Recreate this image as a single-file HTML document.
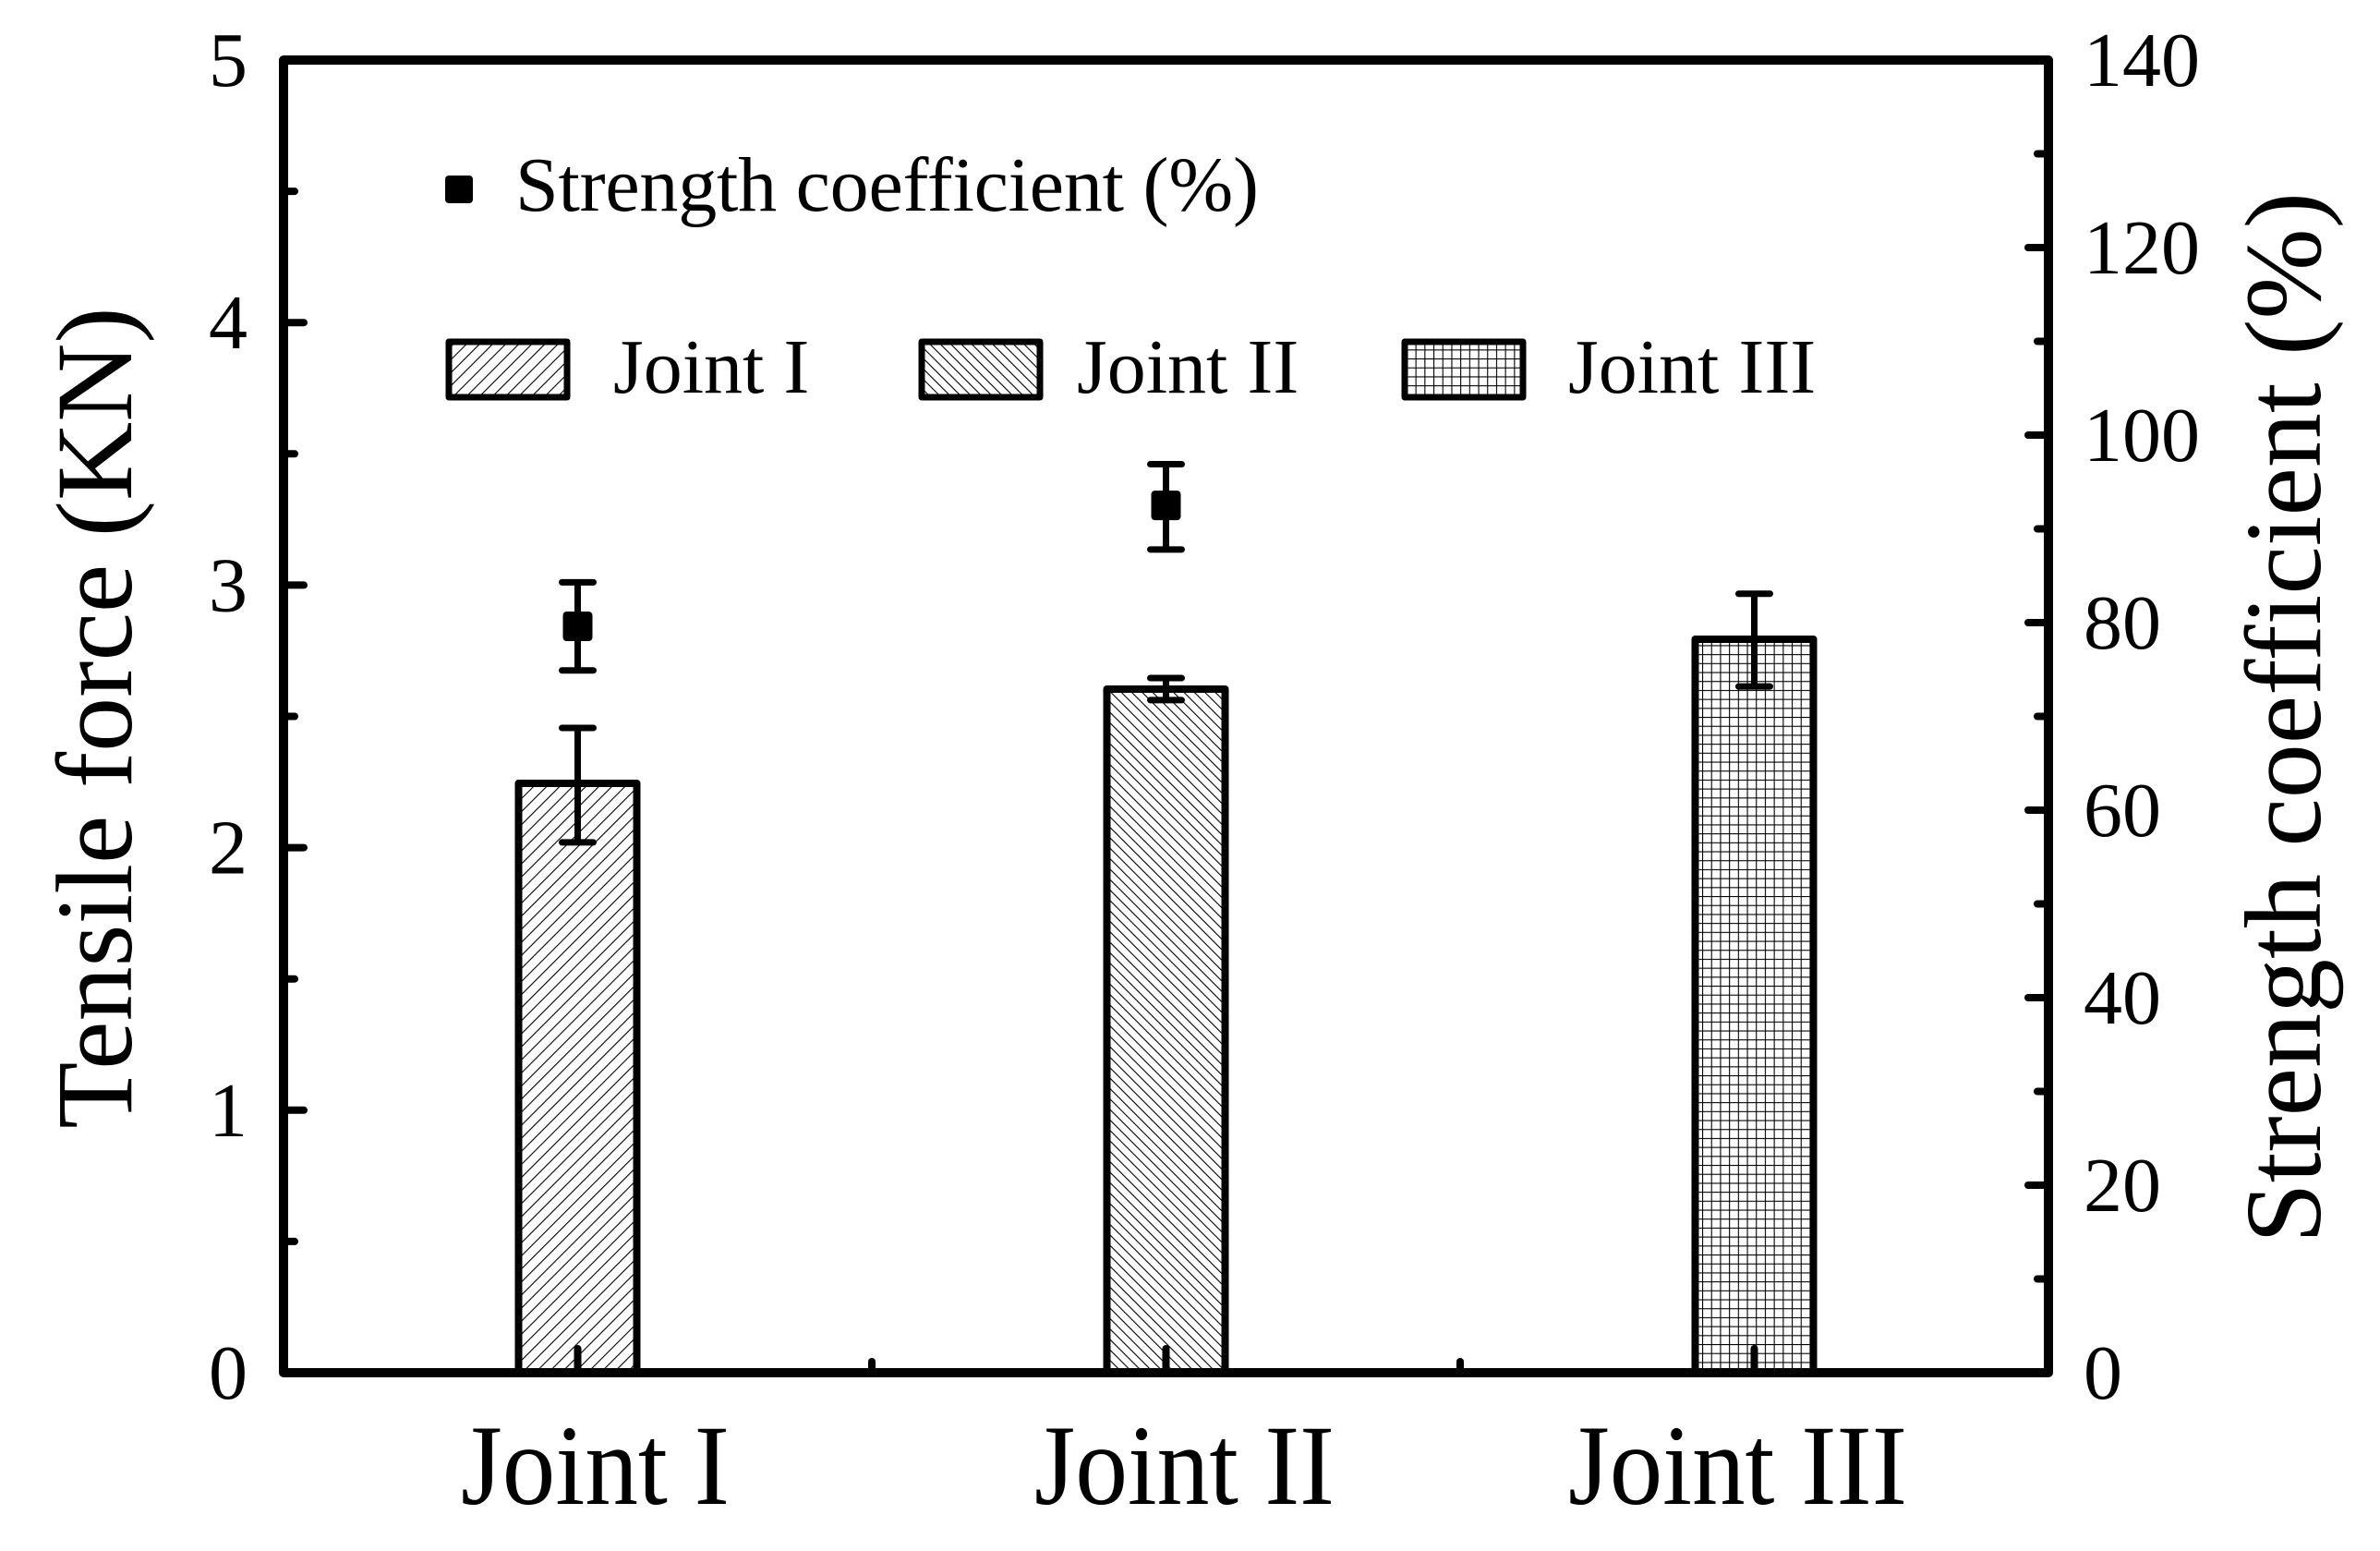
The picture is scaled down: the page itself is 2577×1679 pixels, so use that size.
<!DOCTYPE html>
<html><head><meta charset="utf-8"><style>
html,body{margin:0;padding:0;background:#fff;}
svg{display:block;}
text{font-family:"Liberation Serif",serif;fill:#000;}
</style></head><body>
<svg id="chart" xmlns="http://www.w3.org/2000/svg" width="2577" height="1679" viewBox="0 0 2577 1679">
<defs>
<pattern id="hatch1" patternUnits="userSpaceOnUse" width="10" height="10" patternTransform="rotate(45)">
<line x1="0" y1="0" x2="0" y2="10" stroke="#000" stroke-width="2.2"/></pattern>
<pattern id="hatch2" patternUnits="userSpaceOnUse" width="8" height="8" patternTransform="rotate(-45)">
<line x1="0" y1="0" x2="0" y2="8" stroke="#000" stroke-width="2.2"/></pattern>
<pattern id="hatch3" patternUnits="userSpaceOnUse" width="9.7" height="9.7">
<path d="M0 0 H9.7 M0 0 V9.7" stroke="#000" stroke-width="2.2" fill="none"/></pattern>
</defs>
<g id="plot"></g>
</svg>
<script>
const categories = ["Joint I", "Joint II", "Joint III"];
const forceValues = [2.245, 2.604, 2.794];
const forceErrLow = [2.02, 2.562, 2.614];
const forceErrHigh = [2.456, 2.646, 2.967];
const coefCategories = ["Joint I", "Joint II"];
const coefValues = [79.6, 92.5];
const coefErrLow = [74.9, 87.8];
const coefErrHigh = [84.3, 96.9];
const leftTicks = [0, 1, 2, 3, 4, 5];
const rightTicks = [0, 20, 40, 60, 80, 100, 120, 140];
const patterns = ["url(#hatch1)", "url(#hatch2)", "url(#hatch3)"];

const NS = "http://www.w3.org/2000/svg";
const X0 = 307, X1 = 2218, Y0 = 1486, Y1 = 65;
const xScale = i => X0 + (i + 0.5) * (X1 - X0) / categories.length;
const yL = v => Y0 - v / 5 * (Y0 - Y1);
const yR = v => Y0 - v / 140 * (Y0 - Y1);
const g = document.getElementById("plot");
function mk(tag, attrs, parent) {
  const e = document.createElementNS(NS, tag);
  for (const k in attrs) e.setAttribute(k, attrs[k]);
  (parent || g).appendChild(e);
  return e;
}
function txt(s, attrs) { const t = mk("text", attrs); t.textContent = s; return t; }

categories.forEach((c, i) => {
  const cx = xScale(i), w = 128;
  const b = mk("rect", {x: cx - w/2, y: yL(forceValues[i]), width: w, height: Y0 - yL(forceValues[i]), fill: patterns[i], stroke: "#000", "stroke-width": 8, "stroke-linejoin": "round"});
  
  
  const eb = mk("path", {d: `M${cx} ${yL(forceErrLow[i])} V${yL(forceErrHigh[i])} M${cx-17} ${yL(forceErrLow[i])} H${cx+17} M${cx-17} ${yL(forceErrHigh[i])} H${cx+17}`, stroke: "#000", "stroke-width": 7, "stroke-linecap": "round", fill: "none"});
  
  
});
coefCategories.forEach((c, j) => {
  const i = categories.indexOf(c), cx = xScale(i);
  const eb = mk("path", {d: `M${cx} ${yR(coefErrLow[j])} V${yR(coefErrHigh[j])} M${cx-17} ${yR(coefErrLow[j])} H${cx+17} M${cx-17} ${yR(coefErrHigh[j])} H${cx+17}`, stroke: "#000", "stroke-width": 7, "stroke-linecap": "round", fill: "none"});
  
  
  const p = mk("rect", {x: cx - 16, y: yR(coefValues[j]) - 16, width: 32, height: 32, rx: 4, fill: "#000"});
  
  
});
const fr = mk("rect", {x: X0, y: Y1, width: X1 - X0, height: Y0 - Y1, fill: "none", stroke: "#000", "stroke-width": 10, "stroke-linejoin": "round"});


for (let v = 0; v <= 5; v += 0.5) {
  const maj = Number.isInteger(v);
  mk("line", {x1: X0, x2: X0 + (maj ? 22 : 12), y1: yL(v), y2: yL(v), stroke: "#000", "stroke-width": 8, "stroke-linecap": "round"});
}
leftTicks.forEach(v => {
  const t = txt(String(v), {x: 268, y: yL(v) + 28, "font-size": 84, "text-anchor": "end"});
  
  
});
for (let v = 0; v <= 140; v += 10) {
  const maj = v % 20 === 0;
  mk("line", {x1: X1, x2: X1 - (maj ? 22 : 12), y1: yR(v), y2: yR(v), stroke: "#000", "stroke-width": 8, "stroke-linecap": "round"});
}
rightTicks.forEach(v => {
  const t = txt(String(v), {x: 2256, y: yR(v) + 28, "font-size": 84});
  
  
});
for (let k = 0; k < categories.length * 2 - 1; k++) {
  const xx = k % 2 === 0 ? xScale(k/2) : X0 + (k + 1) * (X1 - X0) / (categories.length * 2);
  mk("line", {x1: xx, x2: xx, y1: Y0, y2: Y0 - (k % 2 === 0 ? 26 : 12), stroke: "#000", "stroke-width": 8, "stroke-linecap": "round"});
}
const xLabStart = [499, 1120, 1698], xLabLen = [291, 325, 367];
categories.forEach((c, i) => {
  const t = txt(c, {x: xLabStart[i], y: 1628, "font-size": 124, textLength: xLabLen[i], lengthAdjust: "spacingAndGlyphs"});
  
  
});
const lt = txt("Tensile force (KN)", {x: 0, y: 0, "font-size": 118, "text-anchor": "middle", transform: "translate(142,777) rotate(-90)"});


const rt = txt("Strength coefficient (%)", {x: 0, y: 0, "font-size": 118, "text-anchor": "middle", transform: "translate(2512,777) rotate(-90)"});


const lm = mk("rect", {x: 482, y: 190, width: 30, height: 30, rx: 4, fill: "#000"});


const ls = txt("Strength coefficient (%)", {x: 558, y: 228, "font-size": 84, textLength: 805});


const legX = [486, 998, 1521], legTX = [664, 1166, 1698];
categories.forEach((c, i) => {
  const r = mk("rect", {x: legX[i], y: 370, width: 128, height: 60, fill: patterns[i], stroke: "#000", "stroke-width": 7, "stroke-linejoin": "round"});
  
  
  const t = txt(c, {x: legTX[i], y: 425, "font-size": 84});
  
  
});
</script>
</body></html>
